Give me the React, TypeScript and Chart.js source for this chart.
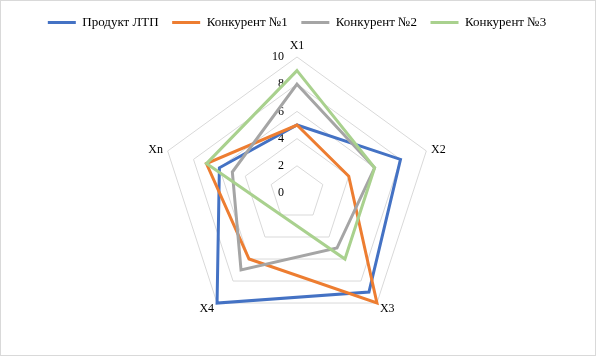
import { useEffect, useRef } from 'react';
import { Chart, registerables } from 'chart.js';

Chart.register(...registerables);

const AXES = ['X1', 'X2', 'X3', 'X4', 'Xn'];
const SERIES_NAMES = ['Продукт ЛТП', 'Конкурент №1', 'Конкурент №2', 'Конкурент №3'];
const PRODUCT = [5, 8, 9, 10, 6];
const COMP1 = [5, 4, 10, 6, 7];
const COMP2 = [8, 6, 5, 7, 5];
const COMP3 = [9, 6, 6, null, 7];
const TICKS = [0, 2, 4, 6, 8, 10];
const COLORS = ['#4472C4', '#ED7D31', '#A5A5A5', '#A9D18E'];
const FONT = '"Liberation Serif", "Times New Roman", serif';

const excelLabels = {
  id: 'excelLabels',
  beforeDatasetsDraw(chart: any) {
    const r = chart.scales.r;
    const ctx = chart.ctx;
    ctx.save();
    ctx.fillStyle = '#000';
    ctx.font = `12px ${FONT}`;
    ctx.textAlign = 'right';
    ctx.textBaseline = 'middle';
    r.ticks.forEach((t: any) => {
      const y = r.yCenter - r.getDistanceFromCenterForValue(t.value);
      ctx.fillText(String(t.label), r.xCenter - 13, y);
    });
    ctx.restore();
  },
  afterDraw(chart: any) {
    const r = chart.scales.r;
    const ctx = chart.ctx;
    ctx.save();
    ctx.fillStyle = '#000';
    ctx.font = `12px ${FONT}`;
    (chart.data.labels as string[]).forEach((lab, i) => {
      const p = r.getPointPosition(i, r.drawingArea + 5);
      const dx = p.x - r.xCenter;
      if (Math.abs(dx) < 1) {
        ctx.textAlign = 'center';
        ctx.textBaseline = p.y < r.yCenter ? 'bottom' : 'top';
      } else {
        ctx.textAlign = dx > 0 ? 'left' : 'right';
        ctx.textBaseline = 'middle';
      }
      ctx.fillText(lab, p.x, p.y + (p.y > r.yCenter + 1 ? 2 : 0));
    });
    ctx.strokeStyle = '#d9d9d9';
    ctx.lineWidth = 1;
    ctx.strokeRect(0.5, 0.5, chart.width - 1, chart.height - 1);
    ctx.restore();
  },
};

export default function App() {
  const ref = useRef<HTMLCanvasElement | null>(null);

  useEffect(() => {
    if (!ref.current) return;
    const seriesData = [PRODUCT, COMP1, COMP2, COMP3];
    const chart = new Chart(ref.current, {
      type: 'radar',
      data: {
        labels: AXES,
        datasets: seriesData.map((d, i) => ({
          label: SERIES_NAMES[i],
          data: d as any,
          borderColor: COLORS[i],
          backgroundColor: COLORS[i],
          borderWidth: 3,
          pointRadius: 0,
          pointHoverRadius: 0,
          fill: false,
          spanGaps: true,
          order: seriesData.length - i,
        })),
      },
      options: {
        responsive: false,
        animation: false,
        layout: { padding: { top: 2.5, bottom: 26.5, left: 0, right: 2 } },
        plugins: {
          legend: {
            position: 'top',
            labels: {
              font: { family: FONT, size: 13 },
              color: '#000',
              boxWidth: 28,
              boxHeight: 3,
              padding: 13.5,
              sort: (a: any, b: any) => a.datasetIndex - b.datasetIndex,
              generateLabels: (c: any) =>
                (Chart.defaults.plugins.legend.labels.generateLabels as any)(c).map((l: any) => ({
                  ...l,
                  lineWidth: 0,
                })),
            },
          },
          subtitle: {
            display: true,
            text: '',
            weight: 500,
            padding: { top: 8, bottom: 0 },
            font: { size: 10, lineHeight: 1 },
          } as any,
          tooltip: { enabled: false },
        },
        scales: {
          r: {
            min: TICKS[0],
            max: TICKS[TICKS.length - 1],
            ticks: { stepSize: TICKS[1] - TICKS[0], display: false },
            grid: { color: '#d9d9d9', lineWidth: 1 },
            angleLines: { display: false },
            pointLabels: { display: false },
          },
        },
      },
      plugins: [excelLabels],
    });
    return () => chart.destroy();
  }, []);

  return (
    <div style={{ position: 'fixed', left: 0, top: 0, width: 596, height: 356, background: '#fff' }}>
      <canvas ref={ref} width={596} height={356} />
    </div>
  );
}
